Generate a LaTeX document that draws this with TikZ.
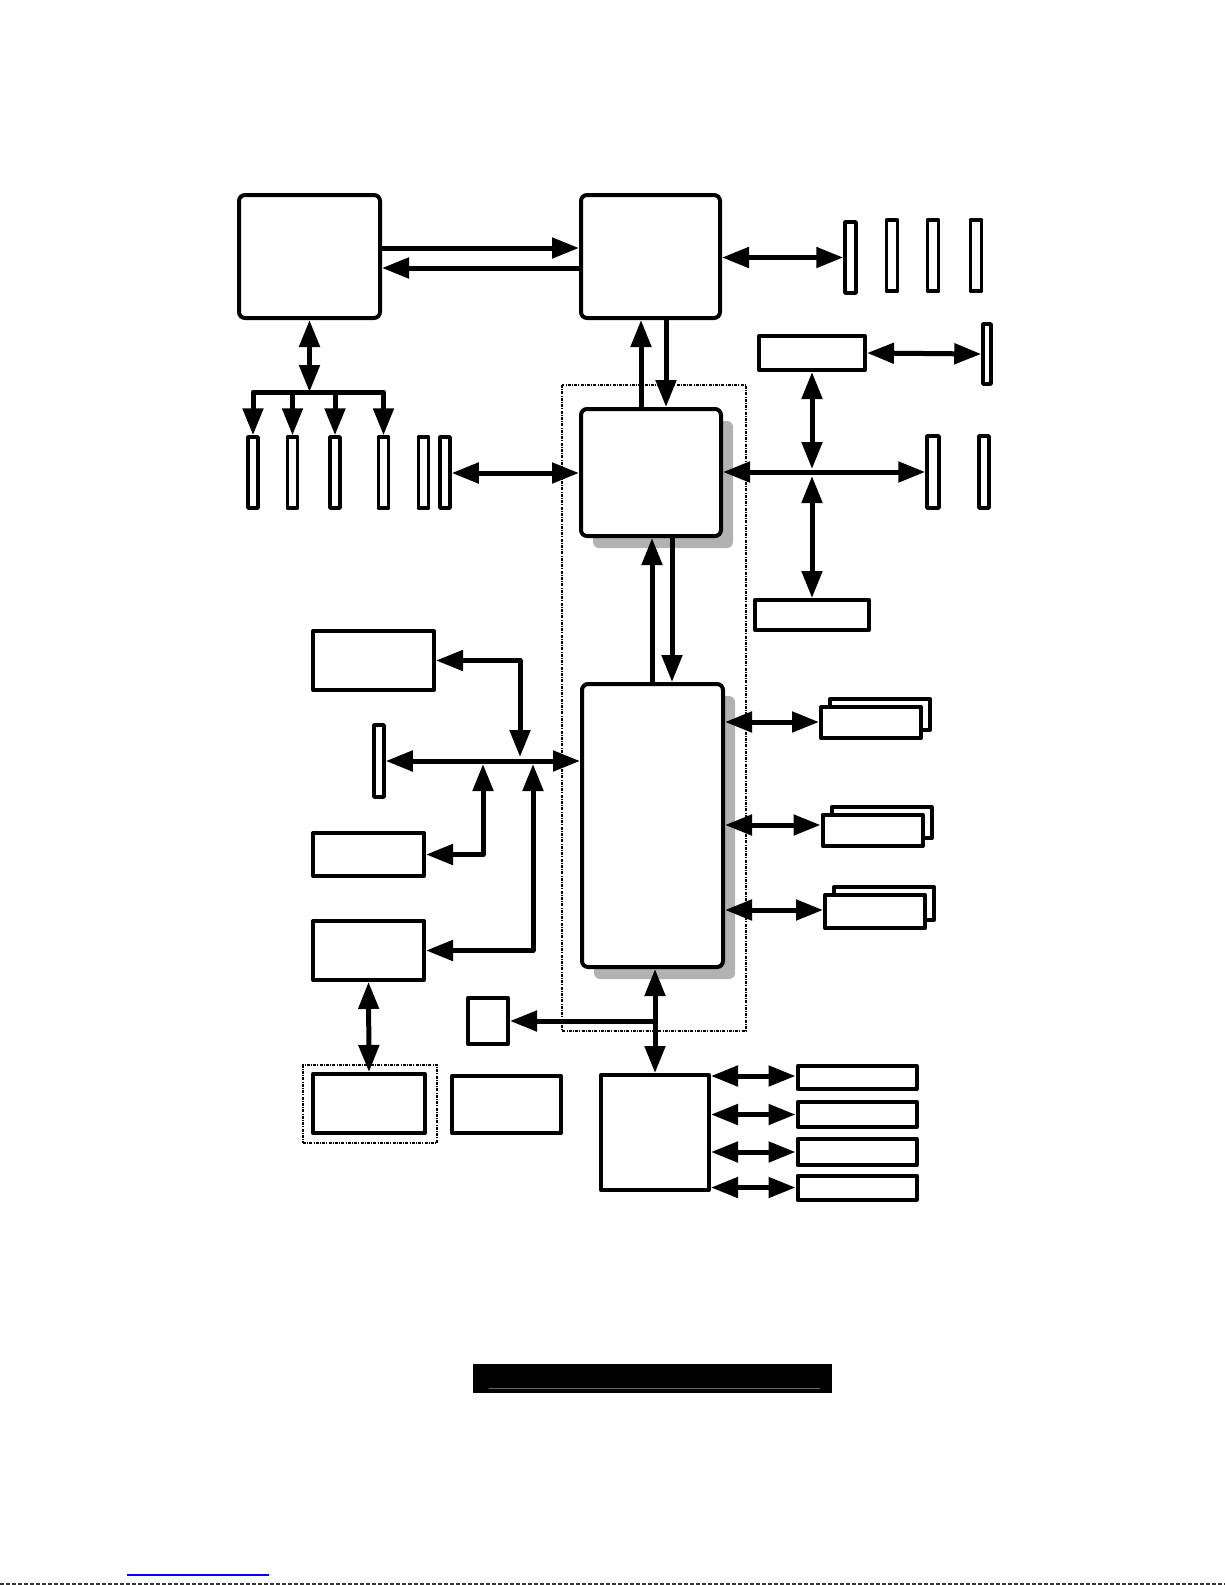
\documentclass[tikz,border=0pt]{standalone}
\usetikzlibrary{arrows.meta,shadows}
\begin{document}
\begin{tikzpicture}[x=1pt,y=-1pt,
  box/.style={draw, line width=4pt, fill=white, inner sep=0pt, line join=round},
  chip/.style={box, rounded corners=6pt},
  shad/.style={drop shadow={shadow xshift=12pt, shadow yshift=-12pt, fill=black!30, opacity=1, draw=none}},
  slot/.style={box, line width=3.5pt, minimum width=10pt, minimum height=71pt},
  arr/.style={line width=5pt, line join=round, sharp corners, -{Triangle[length=27pt,width=20pt]}},
  dbl/.style={line width=5pt, line join=round, sharp corners, {Triangle[length=27pt,width=20pt]}-{Triangle[length=27pt,width=20pt]}},
  frame/.style={line width=1.3pt, dash pattern=on 3pt off 1.2pt on 1pt off 1.2pt},
]
\useasboundingbox (0,0) rectangle (1225,1585);

% dash-dot frame round the chipset
\draw[frame] (562,385) rectangle (746,1031);

% main chips
\node[chip, minimum width=141pt, minimum height=123pt] (A) at (309.5,256.5) {};
\node[chip, minimum width=139pt, minimum height=123pt] (B) at (650.5,256.5) {};
\node[chip, shad, minimum width=140pt, minimum height=127pt] (C) at (651,472.5) {};
\node[chip, shad, minimum width=141pt, minimum height=283pt] (D) at (652.5,825.5) {};

% left slots
\foreach \n/\x in {1/253,2/292.5,3/335,4/383.5,5/423.5,6/445}
  \node[slot] (S\n) at (\x,472.5) {};

% top right slots
\node[slot, minimum width=11pt] (T1) at (850.5,257.5) {};
\node[slot, minimum width=11pt] (T2) at (892,255.5) {};
\node[slot, minimum width=11pt] (T3) at (933,255.5) {};
\node[slot, minimum width=11pt] (T4) at (976,255.5) {};
\node[box, minimum width=106pt, minimum height=34pt] (F) at (812,353) {};
\node[slot, minimum width=8pt, minimum height=60pt] (R1) at (987,354) {};
\node[slot, minimum width=12pt, minimum height=72pt] (T5) at (933,472) {};
\node[slot, minimum height=72pt] (T6) at (984,472) {};
\node[box, minimum width=114pt, minimum height=30pt] (G) at (812,615) {};

% left side
\node[box, minimum width=121pt, minimum height=59pt] (H) at (373.5,660.5) {};
\node[slot, minimum height=72pt] (R2) at (379,761) {};
\node[box, minimum width=111pt, minimum height=43pt] (I) at (368.5,854.5) {};
\node[box, minimum width=111pt, minimum height=59pt] (J) at (368.5,950.5) {};
\node[frame, draw, inner sep=0pt, minimum width=134pt, minimum height=78pt] (Lf) at (370,1104) {};
\node[box, minimum width=112pt, minimum height=59pt] (L) at (369,1103.5) {};

% bottom
\node[box, minimum width=40pt, minimum height=46pt] (K) at (488,1021) {};
\node[box, minimum width=109pt, minimum height=57pt] (M) at (506.5,1104.5) {};
\node[box, minimum width=108pt, minimum height=115pt] (E) at (655,1132.5) {};
\node[box, minimum width=119pt, minimum height=23pt] (N1) at (857,1077.5) {};
\node[box, minimum width=119pt, minimum height=25pt] (N2) at (857,1114.5) {};
\node[box, minimum width=119pt, minimum height=26pt] (N3) at (857,1152) {};
\node[box, minimum width=119pt, minimum height=24pt] (N4) at (857,1187.5) {};

% right stacked boxes
\node[box, minimum width=100pt, minimum height=31pt] (P1b) at (880,714.5) {};
\node[box, minimum width=100pt, minimum height=31pt] (P1) at (871,722.5) {};
\node[box, minimum width=100pt, minimum height=31pt] (P2b) at (881.5,822.5) {};
\node[box, minimum width=100pt, minimum height=31pt] (P2) at (872.5,830.5) {};
\node[box, minimum width=100pt, minimum height=33pt] (P3b) at (884,903.5) {};
\node[box, minimum width=100pt, minimum height=33pt] (P3) at (875,911.5) {};

% connectors: top
\draw[arr] (A.east |- 0,248) -- (B.west |- 0,248);
\draw[arr] (B.west |- 0,268) -- (A.east |- 0,268);
\coordinate (bus) at (309.5,392);
\draw[dbl] (A.south) -- (bus);
\draw[dbl] (S1.north) -- (S1.north |- bus) -- (S4.north |- bus) -- (S4.north);
\draw[arr] (S2.north |- bus) -- (S2.north);
\draw[arr] (S3.north |- bus) -- (S3.north);
\draw[dbl] (S6.east |- 0,473) -- (C.west |- 0,473);
\draw[dbl] (B.east |- T1.west) -- (T1.west);
\draw[dbl] (F.east) -- (R1.west);
\draw[dbl] (C.east |- T5.west) -- (T5.west);
\coordinate (Xa) at (812,469);
\coordinate (Xb) at (812,476);
\draw[dbl] (F.south) -- (Xa);
\draw[dbl] (Xb) -- (G.north);
\draw[arr] (C.north -| 641,0) -- (B.south -| 641,0);
\draw[arr] (B.south -| 666,0) -- (C.north -| 666,0);
\draw[arr] (D.north -| 652,0) -- (C.south -| 652,0);
\draw[arr] (C.south -| 672,0) -- (D.north -| 672,0);

% connectors: left
\draw[dbl] (R2.east |- 0,761) -- (D.west |- 0,761);
\coordinate (hb) at (520,757);
\draw[dbl] (hb) -- (hb |- H.east) -- (H.east);
\coordinate (ib) at (483,764);
\draw[dbl] (ib) -- (ib |- I.east) -- (I.east);
\coordinate (jb) at (533,764);
\draw[dbl] (jb) -- (jb |- J.east) -- (J.east);
\draw[dbl] (J.south) -- (L.north);

% connectors: right of D
\draw[dbl] (D.east |- 0,722) -- (P1.west |- 0,722);
\draw[dbl] (D.east |- 0,825) -- (P2.west |- 0,825);
\draw[dbl] (D.east |- 0,910) -- (P3.west |- 0,910);

% connectors: bottom
\draw[dbl] (D.south -| E.north) -- (E.north);
\draw[arr] (K.east -| E.north) -- (K.east);
\draw[dbl] (E.east |- 0,1076) -- (N1.west |- 0,1076);
\draw[dbl] (E.east |- N2.west) -- (N2.west);
\draw[dbl] (E.east |- N3.west) -- (N3.west);
\draw[dbl] (E.east |- N4.west) -- (N4.west);

% footer bar
\node[fill=black, inner sep=0pt, minimum width=359pt, minimum height=29pt] (bar) at (652.5,1378.5) {};
\draw[line width=1pt, black!60] ([xshift=16pt,yshift=5pt]bar.south west) -- ([xshift=-12pt,yshift=5pt]bar.south east);
\draw[line width=1.5pt, blue] (127,1575) -- (269,1575);
\draw[line width=1.5pt, black!80, dash pattern=on 4pt off 2pt] (0,1584) -- (1225,1584);
\end{tikzpicture}
\end{document}
